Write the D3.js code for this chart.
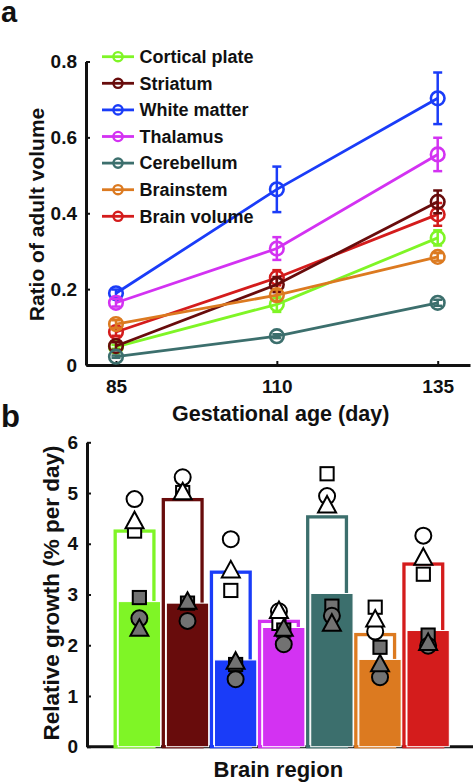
<!DOCTYPE html>
<html><head><meta charset="utf-8">
<script src="https://cdn.jsdelivr.net/npm/d3@7"></script>
<style>
body{margin:0;background:#fff}
svg{display:block}
text{font-family:Arial,"Liberation Sans",sans-serif;font-weight:bold;fill:#111}
</style>
</head><body>
<svg id="c" width="475" height="783"></svg>
<script>
// ---------- data ----------
const regions = ["Cortical plate","Striatum","White matter","Thalamus","Cerebellum","Brainstem","Brain volume"];
const regionColors = ["#7ff526","#680c0c","#1a3cf8","#d332f2","#3c6f6d","#dc7a20","#d41c1c"];
const ages = [85,110,135];
const ageTicks = [85,110,135];
const ratioTicks = [0,0.2,0.4,0.6,0.8];
const growthTicks = [0,1,2,3,4,5,6];

// ratio of adult volume (mean, sem) per region at 85/110/135 days
const ratioCortical   = [0.048,0.160,0.335]; const errCortical   = [0.005,0.020,0.020];
const ratioStriatum   = [0.050,0.212,0.430]; const errStriatum   = [0.010,0.020,0.030];
const ratioWhite      = [0.189,0.463,0.703]; const errWhite      = [0.010,0.060,0.068];
const ratioThalamus   = [0.164,0.307,0.555]; const errThalamus   = [0.010,0.030,0.044];
const ratioCerebellum = [0.022,0.076,0.164]; const errCerebellum = [0.003,0.005,0.008];
const ratioBrainstem  = [0.108,0.184,0.285]; const errBrainstem  = [0.010,0.015,0.010];
const ratioBrain      = [0.087,0.230,0.397]; const errBrain      = [0.010,0.020,0.030];

// relative growth (% per day): open = 85-110 d, filled = 110-135 d
const growthOpen     = [4.25,4.87,3.44,2.47,4.53,2.21,3.60];
const growthFilled   = [2.86,2.83,1.71,2.35,3.02,1.72,2.29];
const openCircle     = [4.88,5.31,4.09,2.67,4.94,2.27,4.16];
const openSquare     = [4.25,5.01,3.08,2.43,5.38,2.75,3.40];
const openTriangle   = [4.47,5.04,3.50,2.70,4.78,2.53,3.75];
const filledCircle   = [2.53,2.48,1.33,2.02,2.58,1.37,1.99];
const filledSquare   = [2.94,2.83,1.62,2.30,2.77,1.96,2.20];
const filledTriangle = [2.35,2.88,1.70,2.35,2.45,1.65,2.07];

// ---------- drawing ----------
const svg = d3.select("#c");
const FONT = 'Arial, "Liberation Sans", sans-serif';

function styleAxis(g){
  g.attr("font-family",FONT).attr("font-size",19).attr("font-weight","bold");
  g.select(".domain").attr("stroke","#111").attr("stroke-width",3);
  g.selectAll(".tick line").attr("stroke","#111").attr("stroke-width",2);
  g.selectAll(".tick text").attr("fill","#111");
}

// ===== Panel a =====
const xA = d3.scaleLinear().domain([80.34,140.02]).range([86,470]);
const yA = d3.scaleLinear().domain([0,0.8]).range([365,61.5]);

svg.append("text").attr("x",1).attr("y",22).attr("font-size",29).text("a");

svg.append("g").attr("transform",`translate(0,${yA(0)})`)
  .call(d3.axisBottom(xA).tickValues(ageTicks).tickSizeInner(-4).tickSizeOuter(0).tickPadding(14.5))
  .call(styleAxis);
svg.append("g").attr("transform",`translate(${xA.range()[0]},0)`)
  .call(d3.axisLeft(yA).tickValues(ratioTicks).tickSizeInner(-4).tickSizeOuter(0).tickPadding(9)
        .tickFormat(d=> d===0 ? "0" : d3.format(".1f")(d)))
  .call(styleAxis);

svg.append("text").attr("transform","translate(43.5,214.5) rotate(-90)")
  .attr("text-anchor","middle").attr("font-size",21).text("Ratio of adult volume");
svg.append("text").attr("x",280.7).attr("y",421).attr("text-anchor","middle")
  .attr("font-size",21.5).text("Gestational age (day)");

const seriesA = [
  {vals:ratioCortical, errs:errCortical},
  {vals:ratioStriatum, errs:errStriatum},
  {vals:ratioWhite, errs:errWhite},
  {vals:ratioThalamus, errs:errThalamus},
  {vals:ratioCerebellum, errs:errCerebellum},
  {vals:ratioBrainstem, errs:errBrainstem},
  {vals:ratioBrain, errs:errBrain}
].map((s,i)=>({...s, name:regions[i], color:regionColors[i]}));

const drawOrder = [6,0,1,2,3,4,5];
const line = d3.line().x(d=>xA(d.age)).y(d=>yA(d.v));
drawOrder.forEach(i=>{
  const s = seriesA[i];
  const pts = ages.map((a,j)=>({age:a, v:s.vals[j], e:s.errs[j]}));
  const g = svg.append("g");
  g.append("path").attr("d",line(pts)).attr("fill","none")
    .attr("stroke",s.color).attr("stroke-width",2.8);
  pts.forEach(p=>{
    const cx = xA(p.age), y1 = yA(p.v - p.e), y2 = yA(p.v + p.e);
    g.append("line").attr("x1",cx).attr("x2",cx).attr("y1",y1).attr("y2",y2)
      .attr("stroke",s.color).attr("stroke-width",2.5);
    [y1,y2].forEach(yy=>g.append("line").attr("x1",cx-4.5).attr("x2",cx+4.5)
      .attr("y1",yy).attr("y2",yy).attr("stroke",s.color).attr("stroke-width",2.5));
    g.append("circle").attr("cx",cx).attr("cy",yA(p.v)).attr("r",6.8)
      .attr("fill","none").attr("stroke",s.color).attr("stroke-width",2.6);
  });
});

// legend
const leg = svg.append("g");
seriesA.forEach((s,i)=>{
  const cy = 56.7 + i*26.6;
  leg.append("line").attr("x1",102).attr("x2",134).attr("y1",cy).attr("y2",cy)
    .attr("stroke",s.color).attr("stroke-width",2.8);
  leg.append("circle").attr("cx",118).attr("cy",cy).attr("r",4.6)
    .attr("fill","none").attr("stroke",s.color).attr("stroke-width",2.4);
  leg.append("text").attr("x",139.5).attr("y",cy+6.3).attr("font-size",18).text(s.name);
});

// ===== Panel b =====
const xB = d3.scaleBand().domain(regions).range([113.5,450.4]).padding(0);
const yB = d3.scaleLinear().domain([0,6]).range([746.7,442.3]);
const bw = xB.bandwidth();

svg.append("text").attr("x",1).attr("y",426.5).attr("font-size",31).text("b");

svg.append("line").attr("x1",87).attr("x2",473).attr("y1",yB(0)).attr("y2",yB(0))
  .attr("stroke","#111").attr("stroke-width",3);
svg.append("g").attr("transform","translate(87,0)")
  .call(d3.axisLeft(yB).tickValues(growthTicks).tickSizeInner(-4).tickSizeOuter(0).tickPadding(9)
        .tickFormat(d3.format("d")))
  .call(styleAxis);

svg.append("text").attr("transform","translate(58.5,593) rotate(-90)")
  .attr("text-anchor","middle").attr("font-size",22.5).text("Relative growth (% per day)");
svg.append("text").attr("x",278.3).attr("y",776.5).attr("text-anchor","middle")
  .attr("font-size",22).text("Brain region");

const openL = 0.035, openR = 0.84, fillL = 0.098, fillR = 0.977;
// open bars
svg.append("g").selectAll("rect").data(regions).join("rect")
  .attr("x",r=>xB(r)+bw*openL).attr("width",bw*(openR-openL))
  .attr("y",(r,i)=>yB(growthOpen[i])).attr("height",(r,i)=>yB(0)-yB(growthOpen[i]))
  .attr("fill","#fff").attr("stroke",(r,i)=>regionColors[i]).attr("stroke-width",3.3);
// filled bars
svg.append("g").selectAll("rect").data(regions).join("rect")
  .attr("x",r=>xB(r)+bw*fillL).attr("width",bw*(fillR-fillL))
  .attr("y",(r,i)=>yB(growthFilled[i])).attr("height",(r,i)=>yB(0)-yB(growthFilled[i]))
  .attr("fill",(r,i)=>regionColors[i]).attr("stroke","#fff").attr("stroke-width",1);

function marker(g, shape, cx, cy, fill){
  if(shape==="circle"){
    g.append("circle").attr("cx",cx).attr("cy",cy).attr("r",8)
      .attr("fill",fill).attr("stroke","#000").attr("stroke-width",2);
  } else if(shape==="square"){
    g.append("rect").attr("x",cx-6.6).attr("y",cy-6.6).attr("width",13.2).attr("height",13.2)
      .attr("fill",fill).attr("stroke","#000").attr("stroke-width",2);
  } else {
    const w=18, h=16.5;
    g.append("path").attr("d",`M${cx},${cy-h/2}L${cx+w/2},${cy+h/2}L${cx-w/2},${cy+h/2}Z`)
      .attr("fill",fill).attr("stroke","#000").attr("stroke-width",2).attr("stroke-linejoin","miter");
  }
}
const mg = svg.append("g");
regions.forEach((r,i)=>{
  const co = xB(r)+bw*(openL+openR)/2;
  marker(mg,"circle",co,yB(openCircle[i]),"#fff");
  marker(mg,"square",co,yB(openSquare[i]),"#fff");
  marker(mg,"triangle",co,yB(openTriangle[i]),"#fff");
});
regions.forEach((r,i)=>{
  const cf = xB(r)+bw*(fillL+fillR)/2;
  marker(mg,"square",cf,yB(filledSquare[i]),"#727272");
  marker(mg,"circle",cf,yB(filledCircle[i]),"#727272");
  marker(mg,"triangle",cf,yB(filledTriangle[i]),"#727272");
});
</script>
</body></html>
